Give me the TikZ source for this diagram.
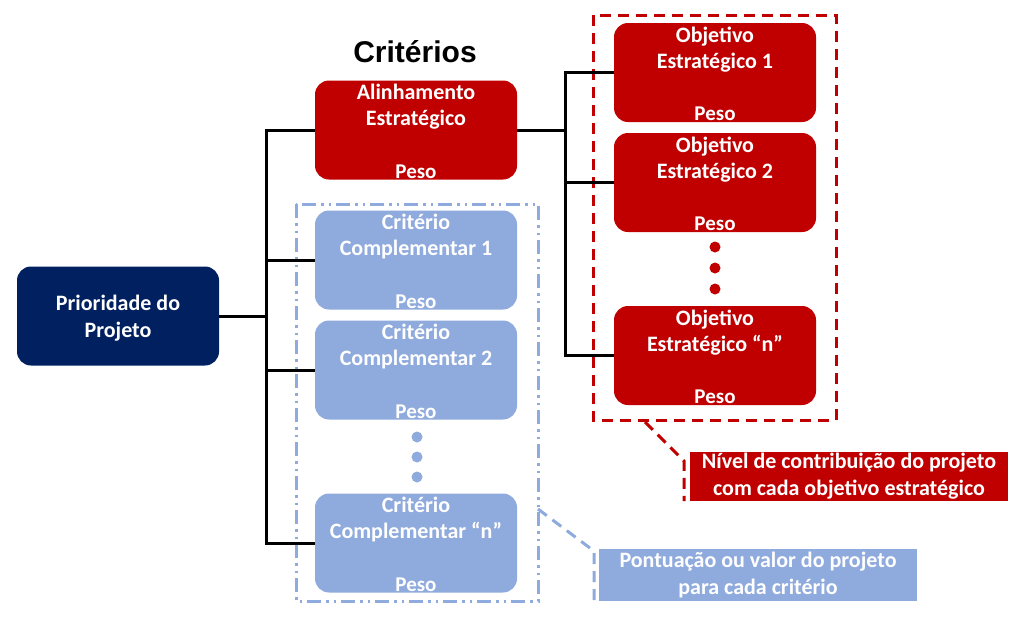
\documentclass[tikz,border=0pt]{standalone}
\usepackage{fontspec}
\setmainfont{Carlito}
\newfontfamily\titlefont{Liberation Sans}
\definecolor{cred}{HTML}{C00000}
\definecolor{cnavy}{HTML}{002060}
\definecolor{cblue}{HTML}{8FAADC}
\begin{document}
\begin{tikzpicture}[x=1pt,y=-1pt,
  box/.style={rounded corners=14pt, minimum width=202pt, minimum height=99pt, inner sep=0pt},
  redbox/.style={box, fill=cred},
  bluebox/.style={box, fill=cblue},
  navybox/.style={box, fill=cnavy},
  ttl/.style={text=white, font=\bfseries\fontsize{22}{26}\selectfont, align=center, anchor=north, inner sep=0pt},
  peso/.style={text=white, font=\bfseries\fontsize{21}{24}\selectfont, anchor=south, inner sep=0pt},
  conn/.style={line width=3pt, black},
  reddash/.style={draw=cred, line width=3pt, dash pattern=on 11pt off 7pt},
  bluedashdot/.style={draw=cblue, line width=3pt, dash pattern=on 14pt off 5pt on 2.5pt off 5pt on 2.5pt off 5pt},
  bluedash/.style={draw=cblue, line width=3pt, dash pattern=on 11pt off 7pt},
  lbl/.style={text=white, font=\bfseries\fontsize{22}{27}\selectfont, align=center, inner sep=0pt, minimum width=318pt},
  dot/.style={circle, inner sep=0pt, minimum size=11pt}
]
\useasboundingbox (0,0) rectangle (1024,627);

% title
\node[font=\titlefont\bfseries\fontsize{30}{34}\selectfont] (crit) at (415,52) {Critérios};

% frames
\draw[reddash] (593,15) rectangle (836,420);
\draw[bluedashdot] (296,204) rectangle (538,601);

% boxes
\node[navybox] (prio) at (118,316) {};
\node[text=white, font=\bfseries\fontsize{22}{27}\selectfont, align=center] (prioT) at (118,318) {Prioridade do\\Projeto};
\node[redbox] (alin) at (416,130) {};
\node[bluebox] (c1) at (416,260) {};
\node[bluebox] (c2) at (416,370) {};
\node[bluebox] (cn) at (416,543) {};
\node[redbox] (o1) at (715,72.5) {};
\node[redbox] (o2) at (715,182.5) {};
\node[redbox] (on) at (715,355.5) {};

% box texts
\node[ttl] (alinT) at ([yshift=-4pt]alin.north) {Alinhamento\\Estratégico};
\node[peso] (alinP) at ([yshift=1pt]alin.south) {Peso};
\node[ttl] (c1T) at ([yshift=-4pt]c1.north) {Critério\\Complementar 1};
\node[peso] (c1P) at ([yshift=1pt]c1.south) {Peso};
\node[ttl] (c2T) at ([yshift=-4pt]c2.north) {Critério\\Complementar 2};
\node[peso] (c2P) at ([yshift=1pt]c2.south) {Peso};
\node[ttl] (cnT) at ([yshift=-4pt]cn.north) {Critério\\Complementar “n”};
\node[peso] (cnP) at ([yshift=1pt]cn.south) {Peso};
\node[ttl] (o1T) at ([yshift=-4pt]o1.north) {Objetivo\\Estratégico 1};
\node[peso] (o1P) at ([yshift=1pt]o1.south) {Peso};
\node[ttl] (o2T) at ([yshift=-4pt]o2.north) {Objetivo\\Estratégico 2};
\node[peso] (o2P) at ([yshift=1pt]o2.south) {Peso};
\node[ttl] (onT) at ([yshift=-4pt]on.north) {Objetivo\\Estratégico “n”};
\node[peso] (onP) at ([yshift=1pt]on.south) {Peso};

% dots
\node[dot, fill=cred] (rd1) at (715,247) {};
\node[dot, fill=cred] (rd2) at (715,268) {};
\node[dot, fill=cred] (rd3) at (715,289) {};
\node[dot, fill=cblue] (bd1) at (417,437) {};
\node[dot, fill=cblue] (bd2) at (417,457) {};
\node[dot, fill=cblue] (bd3) at (417,477) {};

% connectors
\coordinate (busL) at (266,316);
\coordinate (busR) at (565,130);
\draw[conn] (prio.east) -- (busL);
\draw[conn] (alin.west) -| (busL) |- (cn.west);
\draw[conn] (c1.west) -- (c1.west -| busL);
\draw[conn] (c2.west) -- (c2.west -| busL);
\draw[conn] (alin.east) -- (busR);
\draw[conn] (o1.west) -| (busR) |- (on.west);
\draw[conn] (o2.west) -- (o2.west -| busR);

% callouts
\node[lbl, fill=cred, minimum height=49pt] (redlbl) at (849,476.5) {Nível de contribuição do projeto\\com cada objetivo estratégico};
\node[lbl, fill=cblue, minimum height=52pt] (bluelbl) at (758,575) {Pontuação ou valor do projeto\\para cada critério};
\coordinate (rs) at (645,422);
\coordinate (rk) at (684,461);
\coordinate (re) at (684,501);
\draw[reddash] (rs) -- (rk) -- (re);
\coordinate (bs) at (538,509);
\coordinate (bk) at (594,551);
\coordinate (be) at (594,601);
\draw[bluedash] (bs) -- (bk) -- (be);
\end{tikzpicture}
\end{document}
